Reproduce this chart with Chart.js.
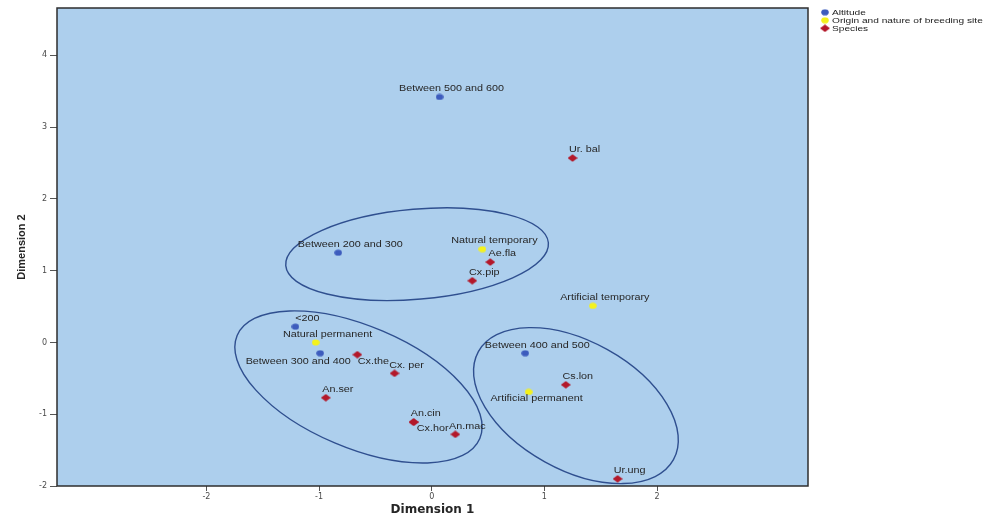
<!DOCTYPE html>
<html>
<head>
<meta charset="utf-8">
<script src="https://cdn.jsdelivr.net/npm/chart.js@4.4.1/dist/chart.umd.min.js"></script>
<style>
  html, body { margin: 0; padding: 0; background: #ffffff; }
  #wrap { width: 991px; height: 518px; }
</style>
</head>
<body>
<div id="wrap"><canvas id="c"></canvas></div>
<script>
// Category points (Dimension 1, Dimension 2)
const altitudeLabels = ['<200', 'Between 200 and 300', 'Between 300 and 400', 'Between 400 and 500', 'Between 500 and 600'];
const altitudeX = [-1.21, -0.83, -0.99, 0.83, 0.07];
const altitudeY = [0.22, 1.25, -0.15, -0.15, 3.42];

const originLabels = ['Natural permanent', 'Natural temporary', 'Artificial permanent', 'Artificial temporary'];
const originX = [-1.03, 0.45, 0.86, 1.43];
const originY = [0.00, 1.30, -0.69, 0.51];

const speciesLabels = ['Ae.fla', 'An.cin', 'An.mac', 'An.ser', 'Cs.lon', 'Cx.hor', 'Cx. per', 'Cx.pip', 'Cx.the', 'Ur. bal', 'Ur.ung'];
const speciesX = [0.52, -0.16, 0.21, -0.94, 1.19, -0.16, -0.33, 0.36, -0.66, 1.25, 1.65];
const speciesY = [1.12, -1.11, -1.28, -0.77, -0.59, -1.11, -0.43, 0.86, -0.17, 2.57, -1.90];

const seriesNames = ['Altitude', 'Origin and nature of breeding site', 'Species'];

const xTicks = [-2, -1, 0, 1, 2];
const yTicks = [-2, -1, 0, 1, 2, 3, 4];

// Cluster outlines: centre in data units, semi-axes in Dimension 1 units, tilt in degrees
const clusters = [
  { cx: -0.13, cy: 1.23, a: 1.17, b: 0.40, tilt: -5 },
  { cx: -0.65, cy: -0.62, a: 1.17, b: 0.54, tilt: 23 },
  { cx: 1.28, cy: -0.88, a: 0.99, b: 0.57, tilt: 29 }
];

const COLORS = { blue: '#3d5cbd', yellow: '#f4f21c', red: '#b3182a' };
const TEXT_STRETCH = 1.27;

function toPoints(xs, ys, labels) {
  return xs.map((x, i) => ({ x: x, y: ys[i], label: labels[i] }));
}

function makeDot(color) {
  const c = document.createElement('canvas');
  c.width = 8; c.height = 7;
  const g = c.getContext('2d');
  g.fillStyle = color;
  g.beginPath();
  g.ellipse(4, 3.5, 3.8, 3.1, 0, 0, Math.PI * 2);
  g.fill();
  return c;
}
function makeDiamond(color) {
  const c = document.createElement('canvas');
  c.width = 10; c.height = 8;
  const g = c.getContext('2d');
  g.fillStyle = color;
  g.beginPath();
  g.moveTo(0, 4); g.lineTo(5, 0.3); g.lineTo(10, 4); g.lineTo(5, 7.7);
  g.closePath();
  g.fill();
  return c;
}
const markers = [makeDot(COLORS.blue), makeDot(COLORS.yellow), makeDiamond(COLORS.red)];

function stretchedText(ctx, text, x, y, align) {
  ctx.save();
  ctx.translate(x, y);
  ctx.scale(TEXT_STRETCH, 1);
  ctx.textAlign = align;
  ctx.textBaseline = 'middle';
  ctx.fillText(text, 0, 0);
  ctx.restore();
}

// Where a point's label sits relative to the marker
const labelShift = {
  'Between 300 and 400': [-22, 8],
  'Cx.the': [16, 7],
  'Cx.hor': [19, 7],
  'Artificial permanent': [8, 7]
};

const plotBackground = {
  id: 'plotBackground',
  beforeDraw(chart) {
    const { ctx, chartArea: a } = chart;
    ctx.save();
    ctx.fillStyle = '#adcfed';
    ctx.fillRect(a.left, a.top, a.right - a.left, a.bottom - a.top);
    ctx.restore();
  },
  beforeDatasetsDraw(chart) {
    const { ctx, chartArea: a, scales } = chart;
    ctx.save();
    ctx.strokeStyle = '#2e2e2e';
    ctx.lineWidth = 1.5;
    ctx.strokeRect(a.left, a.top, a.right - a.left, a.bottom - a.top);
    const unit = scales.x.getPixelForValue(1) - scales.x.getPixelForValue(0);
    ctx.strokeStyle = '#2f4f8f';
    ctx.lineWidth = 1.4;
    clusters.forEach(e => {
      ctx.beginPath();
      ctx.ellipse(scales.x.getPixelForValue(e.cx), scales.y.getPixelForValue(e.cy),
        e.a * unit, e.b * unit, e.tilt * Math.PI / 180, 0, Math.PI * 2);
      ctx.stroke();
    });
    ctx.restore();
  }
};

const pointLabels = {
  id: 'pointLabels',
  afterDatasetsDraw(chart) {
    const ctx = chart.ctx;
    ctx.save();
    ctx.font = '8.5px "Liberation Sans", Arial, sans-serif';
    ctx.fillStyle = '#262626';
    chart.data.datasets.forEach((ds, di) => {
      chart.getDatasetMeta(di).data.forEach((el, i) => {
        const name = ds.data[i].label;
        const s = labelShift[name] || [12, -8];
        stretchedText(ctx, name, el.x + s[0], el.y + s[1], 'center');
      });
    });
    ctx.restore();
  }
};

const sideLegend = {
  id: 'sideLegend',
  afterDraw(chart) {
    const ctx = chart.ctx;
    ctx.save();
    ctx.font = '8px "Liberation Sans", Arial, sans-serif';
    ctx.fillStyle = '#222222';
    chart.data.datasets.forEach((ds, i) => {
      const y = 12.3 + i * 8;
      const m = ds.pointStyle;
      ctx.drawImage(m, 825 - m.width / 2, y - m.height / 2);
      stretchedText(ctx, ds.label, 832, y, 'left');
    });
    ctx.restore();
  }
};

new Chart(document.getElementById('c'), {
  type: 'scatter',
  data: {
    datasets: [
      { label: seriesNames[0], data: toPoints(altitudeX, altitudeY, altitudeLabels), pointStyle: markers[0], backgroundColor: COLORS.blue },
      { label: seriesNames[1], data: toPoints(originX, originY, originLabels), pointStyle: markers[1], backgroundColor: COLORS.yellow },
      { label: seriesNames[2], data: toPoints(speciesX, speciesY, speciesLabels), pointStyle: markers[2], backgroundColor: COLORS.red }
    ]
  },
  options: {
    responsive: true,
    maintainAspectRatio: false,
    animation: false,
    layout: { padding: { top: 8, right: 183, left: 0, bottom: 0 } },
    plugins: { legend: { display: false }, tooltip: { enabled: false } },
    scales: {
      x: {
        type: 'linear',
        min: -3.326,
        max: 3.34,
        afterBuildTicks: s => { s.ticks = xTicks.map(v => ({ value: v })); },
        afterFit: s => { s.height = 32; },
        grid: { drawOnChartArea: false, drawTicks: true, tickLength: 5, color: '#555555', lineWidth: 1 },
        border: { display: false },
        ticks: { padding: 1, color: '#4a4a4a', font: { family: '"DejaVu Sans", sans-serif', size: 8 } },
        title: { display: true, text: 'Dimension 1', color: '#262626', padding: { top: 0, bottom: 1 },
                 font: { family: '"DejaVu Sans", sans-serif', size: 12, weight: 'bold' } }
      },
      y: {
        type: 'linear',
        min: -2,
        max: 4.66,
        afterBuildTicks: s => { s.ticks = yTicks.map(v => ({ value: v })); },
        afterFit: s => { s.width = 57; },
        grid: { drawOnChartArea: false, drawTicks: true, tickLength: 7, color: '#555555', lineWidth: 1 },
        border: { display: false },
        ticks: { padding: 3, color: '#4a4a4a', font: { family: '"DejaVu Sans", sans-serif', size: 8 } },
        title: { display: true, text: 'Dimension 2', color: '#262626', padding: { top: 15, bottom: 0 },
                 font: { family: '"Liberation Sans", Arial, sans-serif', size: 11, weight: 'bold' } }
      }
    }
  },
  plugins: [plotBackground, pointLabels, sideLegend]
});
</script>
</body>
</html>
